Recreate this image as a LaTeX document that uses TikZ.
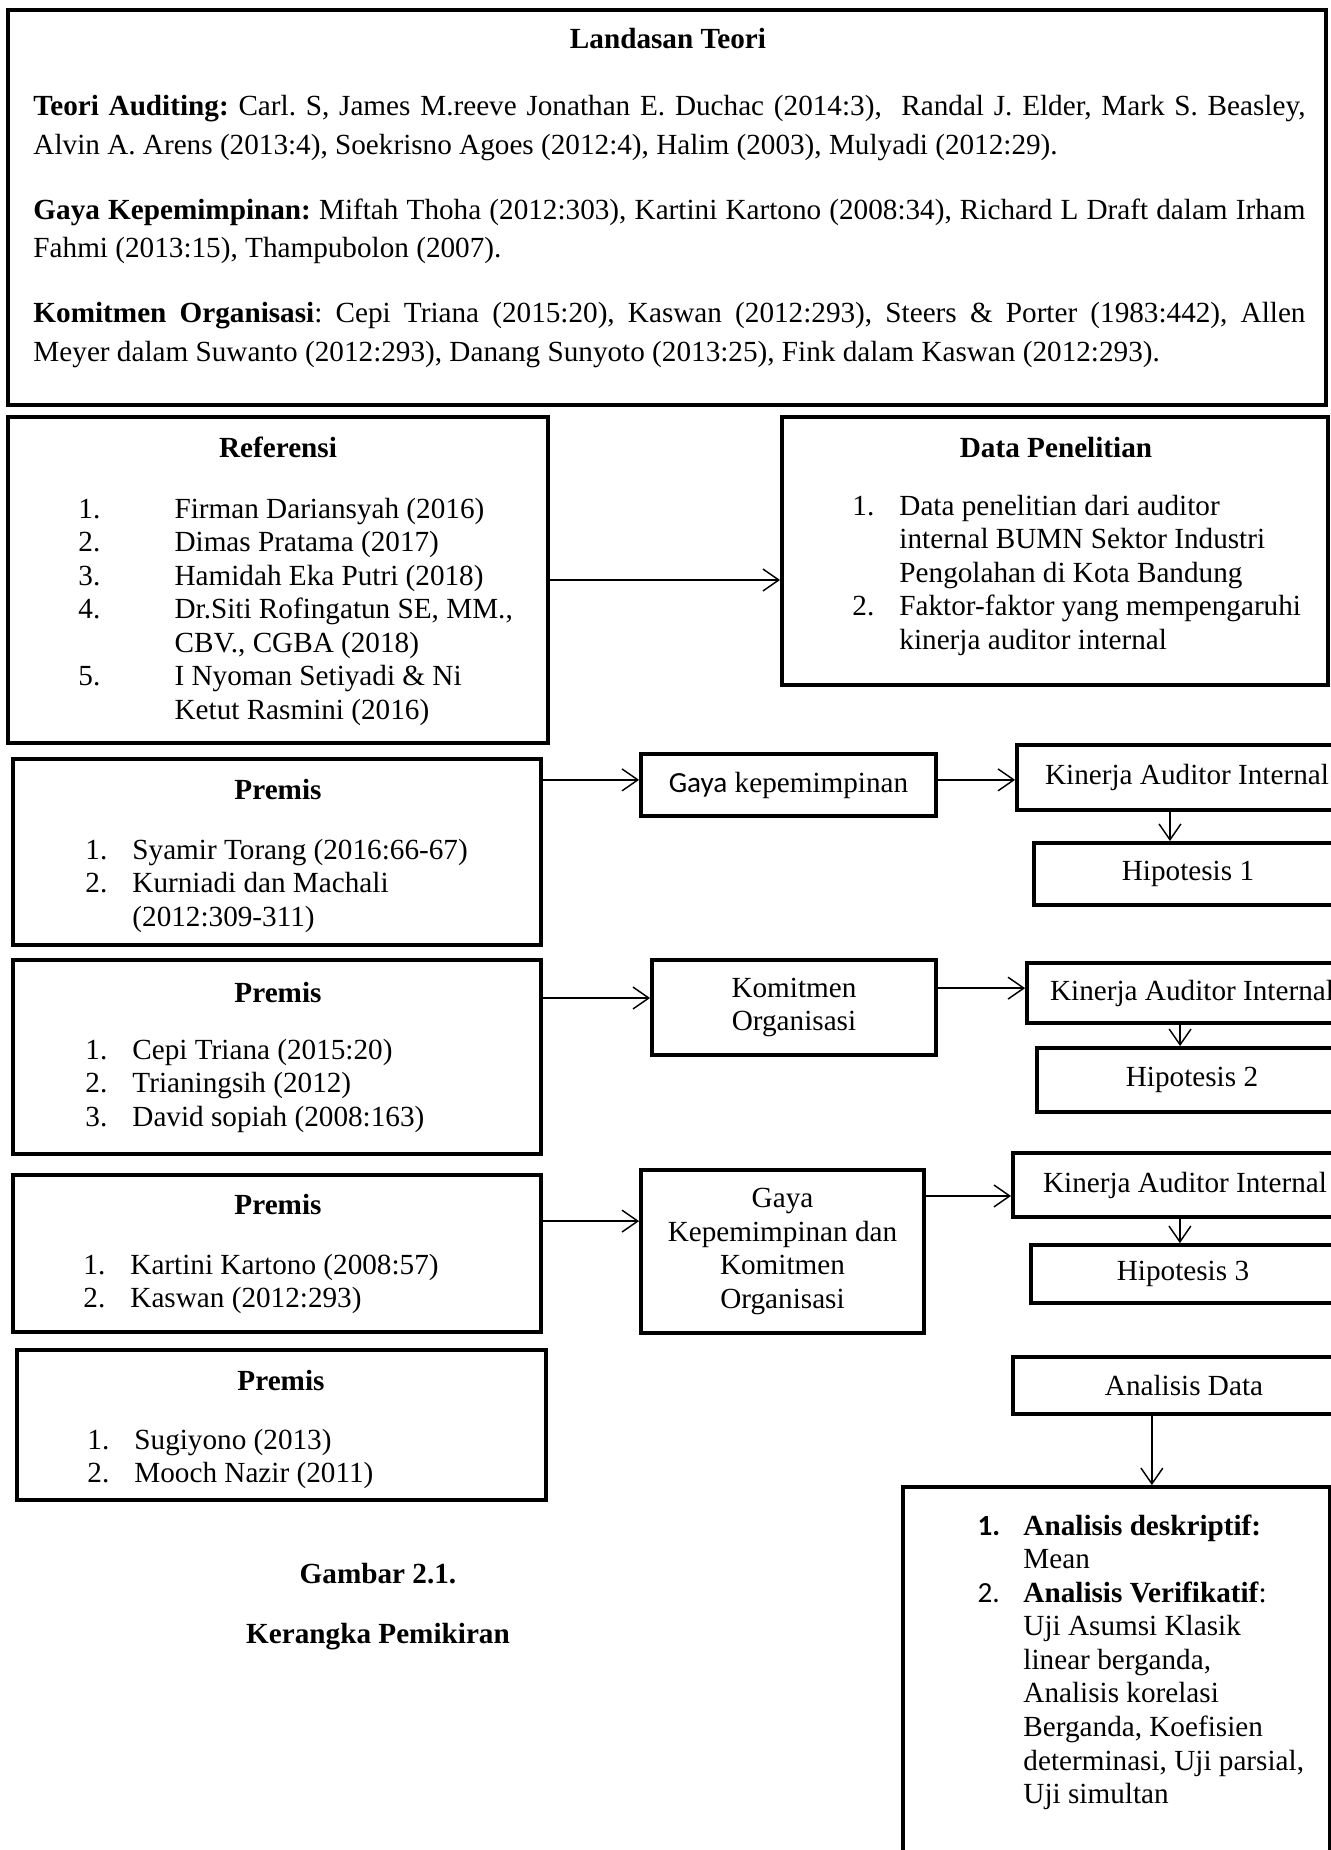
\documentclass[tikz,border=0pt]{standalone}
\usepackage{fontspec}
\setmainfont{Liberation Serif}
\newfontfamily\carlito{Carlito}
\usetikzlibrary{arrows.meta}
\newcommand{\numlist}[2]{\begin{tabular}[t]{@{}p{#1}@{}l@{}}#2\end{tabular}}
\hyphenpenalty=10000
\frenchspacing
\begin{document}
\begin{tikzpicture}[x=0.411pt,y=-0.411pt,
  font=\fontsize{12}{13.8}\selectfont,
  box/.style={draw, line width=1.6pt, inner sep=0pt},
  hd/.style={font=\fontsize{12}{13.8}\selectfont\bfseries, inner sep=0pt, anchor=base},
  lst/.style={inner sep=0pt, anchor=base west},
  arr/.style={-{Straight Barb[length=6.5pt,width=9pt]}, line width=0.6pt}]
\useasboundingbox (0,0) rectangle (1331,1850);
\clip (0,0) rectangle (1331,1850);

\node[box, minimum width=541.7pt, minimum height=162.3pt] (teori) at (667,207.5) {};
\node[hd] (teori-t) at (668,49) {Landasan Teori};
\node[anchor=north west, inner sep=0pt, text width=522.8pt, align=justify,
  font=\fontsize{12}{15.9}\selectfont] (teori-x) at (33,95)
  {\textbf{Teori Auditing:} Carl. S, James M.reeve Jonathan E. Duchac (2014:3),\ \ Randal J. Elder, Mark S. Beasley,\linebreak
   Alvin A. Arens (2013:4), Soekrisno Agoes (2012:4), Halim (2003), Mulyadi (2012:29).\par\vspace{10.7pt}
   \textbf{Gaya Kepemimpinan:} Miftah Thoha (2012:303), Kartini Kartono (2008:34), Richard L Draft dalam Irham\linebreak
   Fahmi (2013:15), Thampubolon (2007).\par\vspace{10.7pt}
   \textbf{Komitmen Organisasi}: Cepi Triana (2015:20), Kaswan (2012:293), Steers \& Porter (1983:442), Allen\linebreak
   Meyer dalam Suwanto (2012:293), Danang Sunyoto (2013:25), Fink dalam Kaswan (2012:293).};

\node[box, minimum width=221.9pt, minimum height=134pt] (ref) at (278,580) {};
\node[hd] (ref-t) at (278,457) {Referensi};
\node[lst] (ref-l) at (78,518) {\numlist{39.5pt}{%
  1. & Firman Dariansyah (2016)\\
  2. & Dimas Pratama (2017)\\
  3. & Hamidah Eka Putri (2018)\\
  4. & Dr.Siti Rofingatun SE, MM.,\\
     & CBV., CGBA (2018)\\
  5. & I Nyoman Setiyadi \& Ni\\
     & Ketut Rasmini (2016)}};

\node[box, minimum width=224.4pt, minimum height=110.1pt] (data) at (1055,551) {};
\node[hd] (data-t) at (1056,457) {Data Penelitian};
\node[lst] (data-l) at (852,515) {\numlist{19.3pt}{%
  1. & Data penelitian dari auditor\\
     & internal BUMN Sektor Industri\\
     & Pengolahan di Kota Bandung\\
  2. & Faktor-faktor yang mempengaruhi\\
     & kinerja auditor internal}};

\node[box, minimum width=217pt, minimum height=76.4pt] (prem1) at (277,852) {};
\node[hd] (prem1-t) at (278,799) {Premis};
\node[lst] (prem1-l) at (85,859) {\numlist{19.3pt}{%
  1. & Syamir Torang (2016:66-67)\\
  2. & Kurniadi dan Machali\\
     & (2012:309-311)}};

\node[box, minimum width=121.2pt, minimum height=25.5pt] (gaya) at (788.5,785) {{\carlito Gaya} kepemimpinan};
\node[box, minimum width=139.7pt, minimum height=26.7pt] (kin1) at (1187,777.5) {Kinerja Auditor Internal};
\node[box, minimum width=126.6pt, minimum height=25.5pt] (hip1) at (1188,874) {Hipotesis 1};

\node[box, minimum width=217pt, minimum height=79.7pt] (prem2) at (277,1057) {};
\node[hd] (prem2-t) at (278,1002) {Premis};
\node[lst] (prem2-l) at (85,1059) {\numlist{19.3pt}{%
  1. & Cepi Triana (2015:20)\\
  2. & Trianingsih (2012)\\
  3. & David sopiah (2008:163)}};

\node[box, minimum width=116.7pt, minimum height=39pt, align=center] (kom) at (794,1007.5) {Komitmen\\Organisasi};
\node[box, minimum width=135.6pt, minimum height=24.7pt] (kin2) at (1192,993) {Kinerja Auditor Internal};
\node[box, minimum width=127.4pt, minimum height=26.3pt] (hip2) at (1192,1080) {Hipotesis 2};

\node[box, minimum width=217pt, minimum height=64.5pt] (prem3) at (277,1253.5) {};
\node[hd] (prem3-t) at (278,1214) {Premis};
\node[lst] (prem3-l) at (83,1274) {\numlist{19.3pt}{%
  1. & Kartini Kartono (2008:57)\\
  2. & Kaswan (2012:293)}};

\node[box, minimum width=116.3pt, minimum height=67pt, align=center] (gkk) at (782.5,1251.5) {Gaya\\Kepemimpinan dan\\Komitmen\\Organisasi};
\node[box, minimum width=141.4pt, minimum height=26.3pt] (kin3) at (1185,1185) {Kinerja Auditor Internal};
\node[box, minimum width=124.9pt, minimum height=23.8pt] (hip3) at (1183,1274) {Hipotesis 3};

\node[box, minimum width=217.4pt, minimum height=61.7pt] (prem4) at (281.5,1425) {};
\node[hd] (prem4-t) at (281,1390) {Premis};
\node[lst] (prem4-l) at (87,1449) {\numlist{19.3pt}{%
  1. & Sugiyono (2013)\\
  2. & Mooch Nazir (2011)}};

\node[box, minimum width=140.6pt, minimum height=23.4pt] (anadata) at (1184,1385.5) {Analisis Data};
\node[box, minimum width=175.5pt, minimum height=169.7pt] (anabox) at (1116.5,1693.5) {};
\node[lst] (anabox-l) at (977,1535) {\numlist{18.9pt}{%
  {\carlito\bfseries 1.} & \textbf{Analisis deskriptif:}\\
     & Mean\\
  {\carlito 2.} & \textbf{Analisis Verifikatif}:\\
     & Uji Asumsi Klasik\\
     & linear berganda,\\
     & Analisis korelasi\\
     & Berganda, Koefisien\\
     & determinasi, Uji parsial,\\
     & Uji simultan}};

\node[hd] (cap1) at (378,1583) {Gambar 2.1.};
\node[hd] (cap2) at (378,1643) {Kerangka Pemikiran};

\coordinate (g-in) at ([yshift=2.1pt]gaya.west);
\coordinate (g-out) at ([yshift=2.1pt]gaya.east);
\coordinate (k-in) at ([yshift=3.9pt]kom.west);
\coordinate (k-out) at ([yshift=2pt]kin2.west);
\coordinate (gk-in) at ([yshift=12.5pt]gkk.west);
\coordinate (gk-out) at ([yshift=-4.5pt]kin3.west);
\coordinate (h1) at ([xshift=-7pt]kin1.south);
\coordinate (h2) at ([xshift=-4.9pt]kin2.south);
\coordinate (h3) at ([xshift=-2.1pt]kin3.south);
\coordinate (ad) at ([xshift=-13.2pt]anadata.south);

\draw[arr] (ref.east) -- (ref.east -| data.west);
\draw[arr] (prem1.east |- g-in) -- (g-in);
\draw[arr] (g-out) -- (g-out -| kin1.west);
\draw[arr] (h1) -- (h1 |- hip1.north);
\draw[arr] (prem2.east |- k-in) -- (k-in);
\draw[arr] (kom.east |- k-out) -- (k-out);
\draw[arr] (h2) -- (h2 |- hip2.north);
\draw[arr] (prem3.east |- gk-in) -- (gk-in);
\draw[arr] (gkk.east |- gk-out) -- (gk-out);
\draw[arr] (h3) -- (h3 |- hip3.north);
\draw[arr] (ad) -- (ad |- anabox.north);
\end{tikzpicture}
\end{document}
